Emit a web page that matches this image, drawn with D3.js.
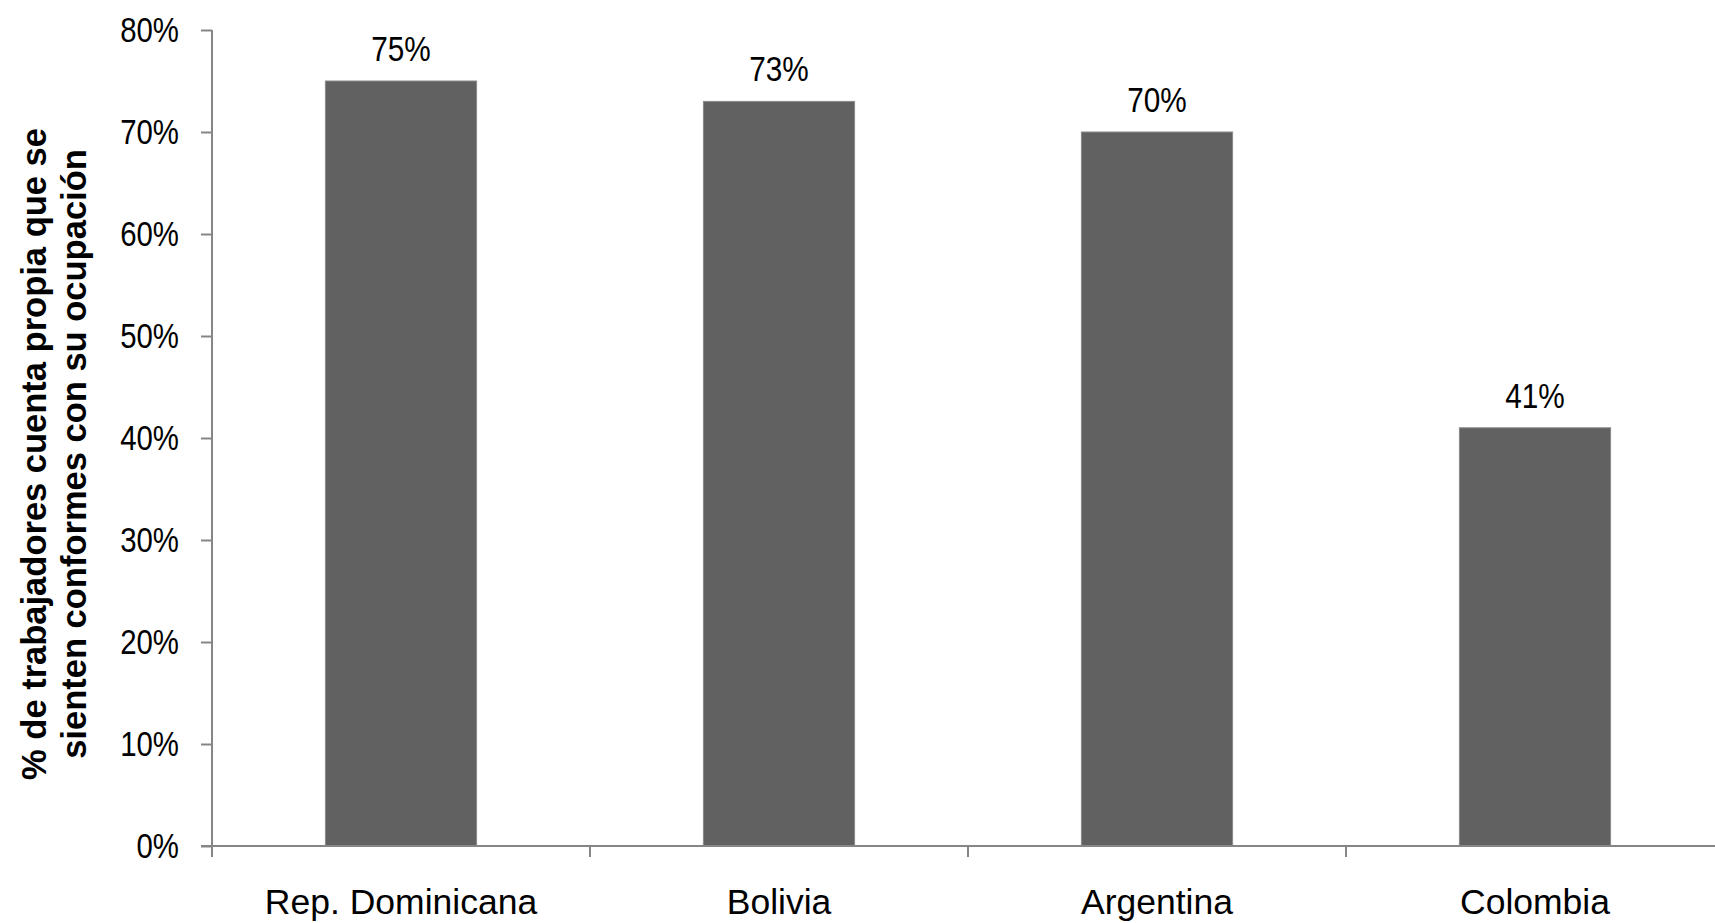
<!DOCTYPE html>
<html>
<head>
<meta charset="utf-8">
<script src="https://cdn.jsdelivr.net/npm/d3@7"></script>
<style>
  html, body { margin: 0; padding: 0; background: #fff; overflow: hidden; }
  svg { display: block; }
</style>
</head>
<body>
<svg id="chart" width="1715" height="923"></svg>
<script>
const categories = ["Rep. Dominicana", "Bolivia", "Argentina", "Colombia"];
const values = [0.75, 0.73, 0.70, 0.41];
const yTicks = [0, 0.1, 0.2, 0.3, 0.4, 0.5, 0.6, 0.7, 0.8];
const yTitleLines = ["% de trabajadores cuenta propia que se", "sienten conformes con su ocupación"];

const svg = d3.select("#chart");
const axisColor = "#868686";

const x = d3.scaleBand().domain(categories).range([212, 1724]).paddingInner(0.6).paddingOuter(0.3);
const y = d3.scaleLinear().domain([0, 0.8]).range([846, 30]);

// bars
svg.append("g").selectAll("rect").data(values).join("rect")
  .attr("x", (d, i) => x(categories[i]))
  .attr("width", x.bandwidth())
  .attr("y", d => y(d))
  .attr("height", d => y(0) - y(d))
  .attr("fill", "#616161")
  .attr("stroke", "#8a8a8a")
  .attr("stroke-width", 1);

// value labels
svg.append("g").selectAll("text").data(values).join("text")
  .attr("transform", (d, i) => `translate(${x(categories[i]) + x.bandwidth() / 2},${y(d) - 20}) scale(0.85,1)`)
  .attr("text-anchor", "middle")
  .attr("font-family", "'Liberation Sans', sans-serif")
  .attr("font-size", 35)
  .attr("fill", "#000")
  .text(d => d3.format(".0%")(d));

// y axis
const yAxis = d3.axisLeft(y).tickValues(yTicks).tickFormat(d3.format(".0%")).tickSize(11).tickPadding(21);
const gy = svg.append("g").attr("transform", "translate(212,0)").call(yAxis);
gy.select(".domain").attr("stroke", axisColor).attr("stroke-width", 2).attr("d", "M0,846V30");
gy.selectAll(".tick line").attr("stroke", axisColor).attr("stroke-width", 2);
gy.selectAll(".tick text")
  .attr("x", 0)
  .attr("transform", "translate(-33,0) scale(0.84,1)")
  .attr("font-family", "'Liberation Sans', sans-serif")
  .attr("font-size", 35).attr("fill", "#000");

// x axis
const xAxis = d3.axisBottom(x).tickSize(0).tickPadding(43);
const gx = svg.append("g").attr("transform", "translate(0,846)").call(xAxis);
gx.select(".domain").attr("stroke", axisColor).attr("stroke-width", 2).attr("d", "M201,0H1724");
gx.selectAll(".tick text")
  .attr("font-family", "'Liberation Sans', sans-serif")
  .attr("font-size", 35.5).attr("fill", "#000");
// category boundary ticks
const step = x.step();
const bounds = d3.range(categories.length + 1).map(i => x.range()[0] + i * step);
gx.append("g").selectAll("line").data(bounds).join("line")
  .attr("x1", d => d).attr("x2", d => d)
  .attr("y1", 0).attr("y2", 11)
  .attr("stroke", axisColor).attr("stroke-width", 2);

// y title
const title = svg.append("text")
  .attr("transform", "translate(0,454) rotate(-90)")
  .attr("text-anchor", "middle")
  .attr("font-family", "'Liberation Sans', sans-serif")
  .attr("font-weight", "bold")
  .attr("font-size", 34.5)
  .attr("fill", "#000");
title.selectAll("tspan").data(yTitleLines).join("tspan")
  .attr("x", 0)
  .attr("y", (d, i) => 46 + i * 40)
  .text(d => d);
</script>
</body>
</html>
